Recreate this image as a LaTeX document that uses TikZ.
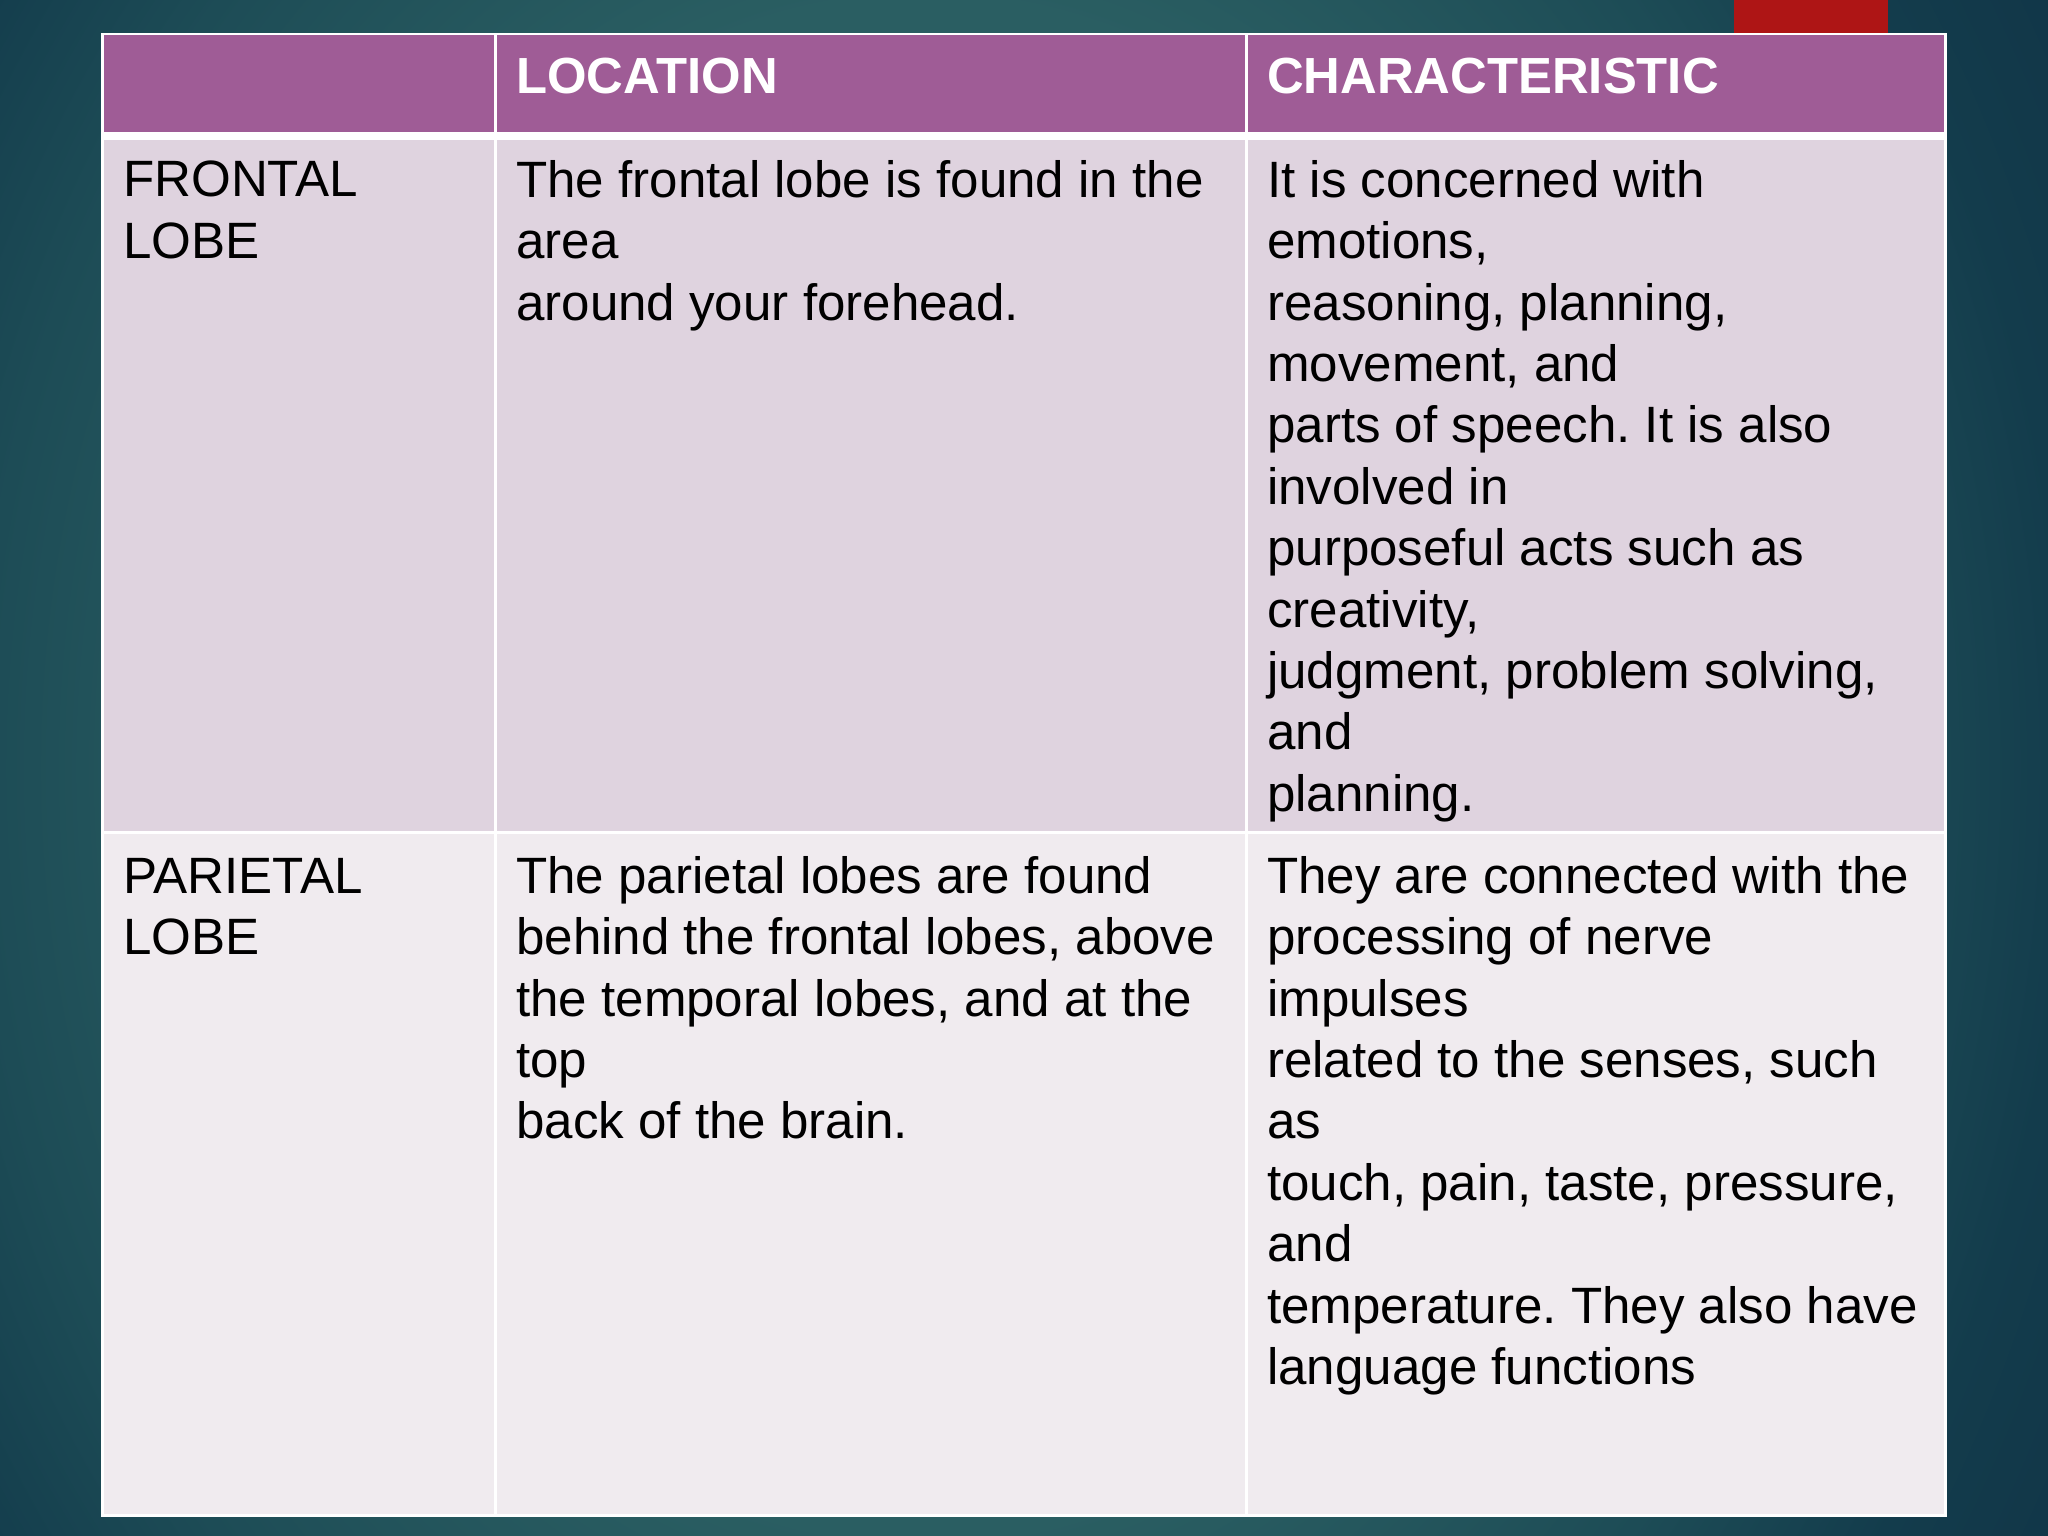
\documentclass[tikz,border=0pt]{standalone}
\usepackage{fontspec}
\setmainfont{Liberation Sans}
\definecolor{bgouter}{HTML}{113648}
\definecolor{bgmida}{HTML}{133C4C}
\definecolor{bgmidb}{HTML}{1D4C56}
\definecolor{bginner}{HTML}{2A5E62}
\definecolor{hdr}{HTML}{9F5C96}
\definecolor{rowa}{HTML}{DFD3DF}
\definecolor{rowb}{HTML}{F0EBEF}
\definecolor{tabred}{HTML}{AE1515}
\pgfdeclareradialshading{slidebg}{\pgfpointorigin}{color(0bp)=(bginner); color(14bp)=(bginner); color(21bp)=(bgmidb); color(25.5bp)=(bgmida); color(29bp)=(bgouter); color(100bp)=(bgouter)}
\tikzset{
  x=1pt,y=-1pt,
  cellbody/.style={anchor=north west,inner sep=0pt,text=black,align=left,font=\fontsize{51.1}{61.4}\selectfont\frenchspacing},
  cellhead/.style={anchor=north west,inner sep=0pt,text=white,align=left,font=\fontsize{50.8}{61.4}\selectfont\bfseries},
}
\begin{document}
\begin{tikzpicture}
\useasboundingbox (0,0) rectangle (2048,1536);
\begin{scope}
\clip (0,0) rectangle (2048,1536);
\shade[shading=slidebg] (-200,-600) rectangle (2048,2136);
\end{scope}
\fill[tabred] (1734,0) rectangle (1888,33);
\fill[white] (101,33) rectangle (1947,1517);
\fill[hdr] (104,35) rectangle (494,132);
\fill[hdr] (497,35) rectangle (1245,132);
\fill[hdr] (1248,35) rectangle (1944,132);
\fill[rowa] (104,140) rectangle (494,831);
\fill[rowa] (497,140) rectangle (1245,831);
\fill[rowa] (1248,140) rectangle (1944,831);
\fill[rowb] (104,834) rectangle (494,1514);
\fill[rowb] (497,834) rectangle (1245,1514);
\fill[rowb] (1248,834) rectangle (1944,1514);
\node[cellhead] (h1) at (516,58) {LOCATION};
\node[cellhead] (h2) at (1267,58) {CHARACTERISTIC};
\node[cellbody] (a1) at (123,161) {FRONTAL\\LOBE};
\node[cellbody] (a2) at (516,160) {The frontal lobe is found in the\\area\\around your forehead.};
\node[cellbody] (a3) at (1267,160) {It is concerned with\\emotions,\\reasoning, planning,\\movement, and\\parts of speech. It is also\\involved in\\purposeful acts such as\\creativity,\\judgment, problem solving,\\and\\planning.};
\node[cellbody] (b1) at (123,858) {PARIETAL\\LOBE};
\node[cellbody] (b2) at (516,856) {The parietal lobes are found\\behind the frontal lobes, above\\the temporal lobes, and at the\\top\\back of the brain.};
\node[cellbody] (b3) at (1267,856) {They are connected with the\\processing of nerve\\impulses\\related to the senses, such\\as\\touch, pain, taste, pressure,\\and\\temperature. They also have\\language functions};
\end{tikzpicture}
\end{document}
